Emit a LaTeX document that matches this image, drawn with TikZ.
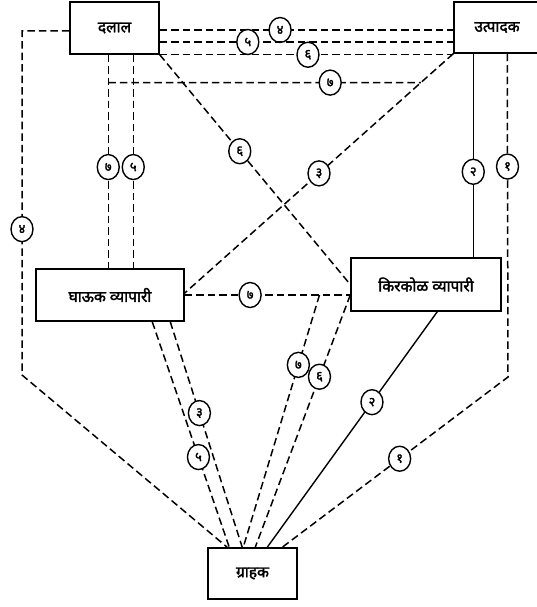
\documentclass[tikz,border=0pt]{standalone}
\usepackage{fontspec}
\newfontfamily\deva[Script=Devanagari,FakeBold=2]{Noto Sans}
\usetikzlibrary{shapes.geometric,calc}
\begin{document}
\begin{tikzpicture}[x=1pt,y=-1pt,
  box/.style={draw,solid,line width=1.5pt,inner sep=0pt,fill=white,font=\deva\fontsize{15.5}{17}\selectfont},
  dsh/.style={line width=1.5pt,dash pattern=on 7.5pt off 4pt},
  sld/.style={line width=1.4pt},
  lbl/.style={draw,solid,ellipse,line width=1.4pt,fill=white,inner sep=0pt,minimum width=22pt,minimum height=25pt,font=\deva\fontsize{13}{14}\selectfont}]
\useasboundingbox (0,0) rectangle (536,607);
% boxes
\node[box,minimum width=89pt,minimum height=52pt] (dalal) at (114.5,28) {दलाल};
\node[box,minimum width=86pt,minimum height=51pt] (utpadak) at (497,27.5) {उत्पादक};
\node[box,minimum width=148pt,minimum height=52pt] (ghauk) at (110,295) {घाऊक व्यापारी};
\node[box,minimum width=150pt,minimum height=53pt] (kirkol) at (426,284.5) {किरकोळ व्यापारी};
\node[box,minimum width=89pt,minimum height=51pt] (grahak) at (252.5,573.5) {ग्राहक};
% helper coordinates on the box edges
\path (dalal.east) ++(0,2) coordinate (d4);
\path (dalal.east) ++(0,14) coordinate (d5);
\path (dalal.west) ++(0,3) coordinate (d4l);
\path (dalal.south west) ++(39,0) coordinate (d7);
\path (dalal.south west) ++(64,0) coordinate (d5v);
\path (ghauk.north west) ++(73,0) coordinate (g7);
\path (ghauk.north west) ++(98,0) coordinate (g5v);
\path (ghauk.east) ++(0,-2) coordinate (g3);
\path (ghauk.south west) ++(117,0) coordinate (g5b);
\path (ghauk.south west) ++(135,0) coordinate (g3b);
\path (utpadak.south west) ++(20,0) coordinate (u2);
\path (utpadak.south west) ++(54,0) coordinate (u1);
\path (kirkol.south west) ++(87,0) coordinate (k2);
\path (grahak.north west) ++(20,0) coordinate (r4);
\path (grahak.north west) ++(22,0) coordinate (r5);
\path (grahak.north west) ++(35,0) coordinate (r3);
\path (grahak.north west) ++(36,0) coordinate (r7);
\path (grahak.north west) ++(48,0) coordinate (r6);
\path (grahak.north west) ++(60,0) coordinate (r2);
\path (grahak.north west) ++(75,0) coordinate (r1);
\coordinate (c4a) at (22,31);
\coordinate (c4b) at (22,375);
\coordinate (c1) at (508,377);
\coordinate (h7) at (ghauk.east -| kirkol.west);
\coordinate (p7) at ($(d7)!0.13!(g7)$);
\coordinate (q7) at ($(utpadak.south west)!0.1208!(g3)$);
\coordinate (b7) at ($(ghauk.east)!0.814!(h7)$);
% top horizontals
\draw[dsh] (d4) -- node[lbl,pos=0.41] (l4a) {४} (d4 -| utpadak.west);
\draw[dsh] (d5) -- node[lbl,pos=0.30] (l5a) {५} (d5 -| utpadak.west);
\draw[dsh] (dalal.south east) -- node[lbl,pos=0.505] (l6a) {६} (dalal.south east -| utpadak.west);
% line 7 upper
\draw[dsh] (p7) -- node[lbl,pos=0.71] (l7a) {७} (q7);
\draw[dsh] (d7) -- node[lbl,pos=0.526] (l7b) {७} (g7);
\draw[dsh] (d5v) -- node[lbl,pos=0.526] (l5b) {५} (g5v);
% diagonals
\draw[dsh] (dalal.south east) -- node[lbl,pos=0.42] (l6b) {६} (kirkol.west);
\draw[dsh] (utpadak.south west) -- node[lbl,pos=0.5] (l3a) {३} (g3);
\draw[dsh] (ghauk.east) -- node[lbl,pos=0.395] (l7c) {७} (h7);
% line 4 left
\draw[dsh] (d4l) -- (c4a) -- node[lbl,pos=0.576] (l4b) {४} (c4b) -- (r4);
% right side
\draw[sld] (u2) -- node[lbl,pos=0.58] (l2a) {२} (u2 |- kirkol.north);
\draw[dsh] (u1) -- node[lbl,pos=0.349] (l1a) {१} (c1) -- node[lbl,pos=0.48] (l1b) {१} (r1);
\draw[sld] (k2) -- node[lbl,pos=0.384] (l2b) {२} (r2);
% to consumer
\draw[dsh] (b7) -- node[lbl,pos=0.277] (l7d) {७} (r7);
\draw[dsh] (h7) -- node[lbl,pos=0.324] (l6c) {६} (r6);
\draw[dsh] (g5b) -- node[lbl,pos=0.60] (l5c) {५} (r5);
\draw[dsh] (g3b) -- node[lbl,pos=0.405] (l3b) {३} (r3);
\end{tikzpicture}
\end{document}
